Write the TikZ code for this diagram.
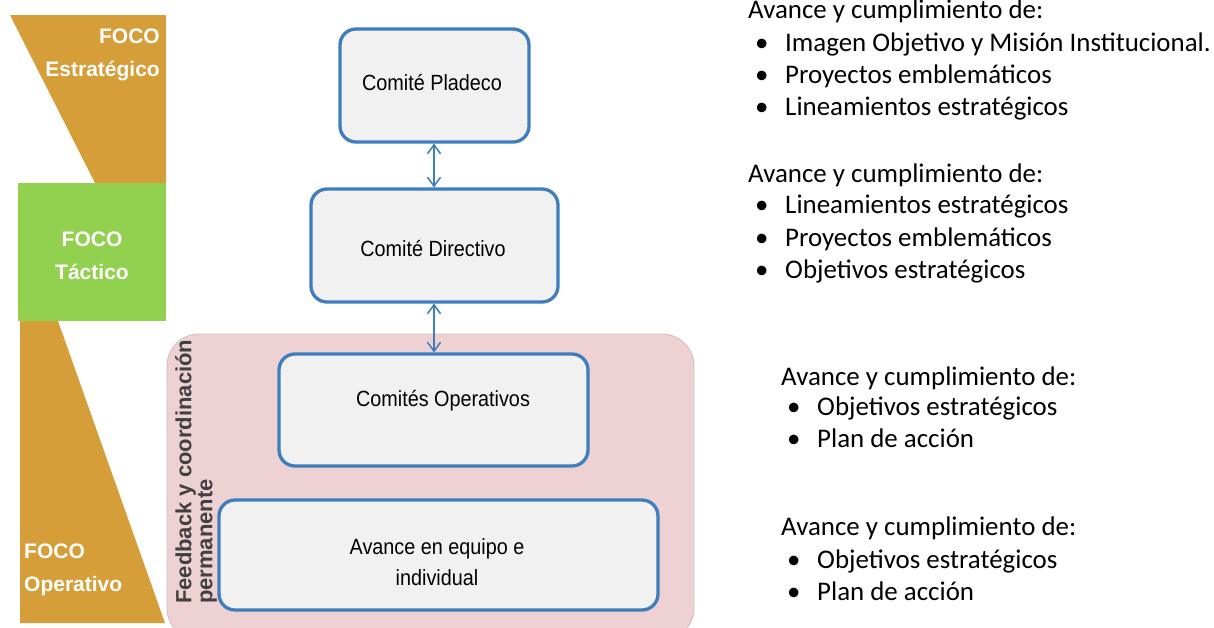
\documentclass[tikz,border=0pt]{standalone}
\usepackage{fontspec}
\setmainfont{Liberation Sans}
\newfontfamily\calib{Carlito}
\usetikzlibrary{arrows.meta}
\definecolor{foco}{HTML}{D69E38}
\definecolor{tact}{HTML}{92D050}
\definecolor{pinkbg}{HTML}{EED2D3}
\definecolor{pinkbd}{HTML}{D8B9BA}
\definecolor{boxfill}{HTML}{F1F1F1}
\definecolor{boxbd}{HTML}{3F7EBD}
\definecolor{fbtext}{HTML}{404040}
\newcommand{\narrowtxt}[1]{\scalebox{0.9}[1]{#1}}
\begin{document}
\begin{tikzpicture}[x=1pt,y=-1pt,
  comite/.style={draw=boxbd, line width=3.3pt, fill=boxfill, rounded corners=16pt, inner sep=0pt},
  boxtxt/.style={font=\fontsize{22}{29}\selectfont, align=center, inner sep=0pt},
  focolbl/.style={font=\bfseries\fontsize{21}{33}\selectfont, text=white, inner sep=0pt},
  rtxt/.style={font=\calib\fontsize{26.9}{31}\selectfont, anchor=base west, inner sep=0pt},
  link/.style={draw=boxbd, line width=1.5pt, {Straight Barb[length=9pt,width=13pt,line width=1.5pt]}-{Straight Barb[length=9pt,width=13pt,line width=1.5pt]}}
]
\useasboundingbox (0,0) rectangle (1214,627);
\fill[white] (0,0) rectangle (1214,627);
% left focus shapes
\fill[foco] (10,15) -- (166,15) -- (166,183) -- (95,183) -- cycle;
\fill[tact] (18,183) rectangle (166,321);
\fill[foco] (20,321) -- (58,321) -- (165,623) -- (20,623) -- cycle;
\node[focolbl, anchor=east, align=right] (fe) at (160,55) {FOCO\\Estratégico};
\node[focolbl, align=center] (ft) at (92,256) {FOCO\\Táctico};
\node[focolbl, anchor=west, align=left] (fo) at (24,570) {FOCO\\Operativo};
% pink background
\draw[pinkbd, fill=pinkbg, line width=0.8pt, rounded corners=32pt] (167,334) rectangle (694,640);
\node[rotate=90, anchor=north west, align=left, font=\bfseries\fontsize{22}{21}\selectfont, text=fbtext, inner sep=0pt] (fb) at (175,604) {Feedback y coordinación\\permanente};
% boxes
\path[comite] (340,29) rectangle (529,142);
\node[boxtxt] (plt) at (432,83) {\narrowtxt{Comité Pladeco}};
\path[comite] (311,189) rectangle (558,302);
\node[boxtxt] (dit) at (433,249) {\narrowtxt{Comité Directivo}};
\path[comite] (279,354) rectangle (588,466);
\node[boxtxt] (opt) at (443,401) {\narrowtxt{Comités Operativos}};
\path[comite] (219,500) rectangle (658,610);
\node[boxtxt] (avt) at (437,549) {\narrowtxt{Avance en equipo e}};
\node[boxtxt] (avt2) at (437,578) {\narrowtxt{individual}};
% arrows
\coordinate (a1) at (434,143.5);
\coordinate (a2) at (434,187.5);
\coordinate (b1) at (434,303.5);
\coordinate (b2) at (434,352.5);
\draw[link] (a1) -- (a2);
\draw[link] (b1) -- (b2);
% right texts
\node[rtxt] (h1) at (748,18) {Avance y cumplimiento de:};
\node[rtxt] (h1b) at (755,51) {•};
\node[rtxt] (h1i) at (785,51) {Imagen Objetivo y Misión Institucional.};
\node[rtxt] (h1c) at (755,83) {•};
\node[rtxt] (h1j) at (785,83) {Proyectos emblemáticos};
\node[rtxt] (h1d) at (755,115) {•};
\node[rtxt] (h1k) at (785,115) {Lineamientos estratégicos};
\node[rtxt] (h2) at (748,182) {Avance y cumplimiento de:};
\node[rtxt] (h2b) at (755,213) {•};
\node[rtxt] (h2i) at (785,213) {Lineamientos estratégicos};
\node[rtxt] (h2c) at (755,246) {•};
\node[rtxt] (h2j) at (785,246) {Proyectos emblemáticos};
\node[rtxt] (h2d) at (755,278) {•};
\node[rtxt] (h2k) at (785,278) {Objetivos estratégicos};
\node[rtxt] (h3) at (781,385) {Avance y cumplimiento de:};
\node[rtxt] (h3b) at (787,415) {•};
\node[rtxt] (h3i) at (817,415) {Objetivos estratégicos};
\node[rtxt] (h3c) at (787,447) {•};
\node[rtxt] (h3j) at (817,447) {Plan de acción};
\node[rtxt] (h4) at (781,535) {Avance y cumplimiento de:};
\node[rtxt] (h4b) at (787,568) {•};
\node[rtxt] (h4i) at (817,568) {Objetivos estratégicos};
\node[rtxt] (h4c) at (787,600) {•};
\node[rtxt] (h4j) at (817,600) {Plan de acción};
\end{tikzpicture}
\end{document}
